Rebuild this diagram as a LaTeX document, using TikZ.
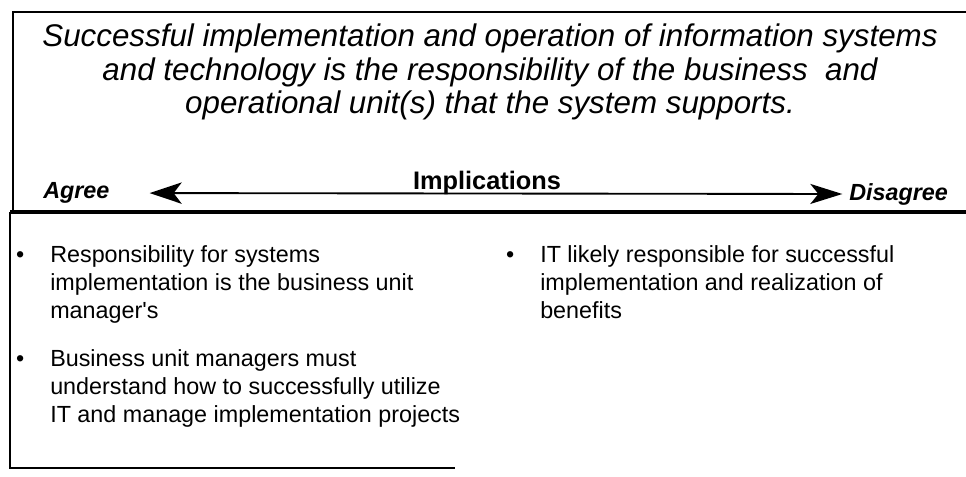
\documentclass[tikz,border=0pt]{standalone}
\usepackage{fontspec}
\newfontfamily\arialfont{Liberation Sans}
\usetikzlibrary{positioning, arrows.meta}
\tikzset{
  claim/.style={align=center, inner sep=0pt, font=\arialfont\itshape\fontsize{23.5}{25}\selectfont},
  heading/.style={inner sep=0pt, font=\arialfont\bfseries\fontsize{19}{22}\selectfont},
  pole/.style={inner sep=0pt, font=\arialfont\bfseries\itshape\fontsize{17.5}{21}\selectfont},
  itemtext/.style={align=left, inner sep=0pt, font=\arialfont\fontsize{17.5}{21}\selectfont},
  frame/.style={line width=1.3pt},
  biarrow/.style={line width=1.4pt, {Stealth[length=24pt, width=16pt, inset=6pt]}-{Stealth[length=24pt, width=15pt, inset=6pt]}}
}
\begin{document}
\begin{tikzpicture}[x=0.75pt, y=-0.75pt]
        \useasboundingbox (0,0) rectangle (966,476);

        % === CAJA SUPERIOR: enunciado ===
        \node (claim) [claim] at (490,72) {Successful implementation and operation of information systems\\and technology is the responsibility of the business\ \ and\\operational unit(s) that the system supports.};
        \node (implic) [heading] at (487,183) {Implications};
        \node (agree) [pole, anchor=west] at (43,193) {Agree};
        \node (disagree) [pole, anchor=west] at (849,194) {Disagree};

        \draw [biarrow, shorten <=30pt, shorten >=5pt] (agree.east) -- (disagree.west);

        \draw [frame] (13,212) -- (13,12) -- (966,12);
        \draw [line width=2.4pt] (10,212) -- (966,212);

        % === CAJA INFERIOR: implicaciones ===
        \draw [frame] (10,212) -- (10,468) -- (455,468);

        \node (lresp) [itemtext, anchor=north west] at (50,243) {\strut Responsibility for systems\\implementation is the business unit\\manager's};
        \node (lmgr) [itemtext, below=17pt of lresp.south west, anchor=north west] {\strut Business unit managers must\\understand how to successfully utilize\\IT and manage implementation projects};
        \node (rresp) [itemtext, anchor=north west] at (540,243) {\strut IT likely responsible for successful\\implementation and realization of\\benefits};

        \node (dot1) [itemtext, left=19pt of lresp.north west, anchor=north east] {\strut\textbullet};
        \node (dot2) [itemtext, left=19pt of lmgr.north west, anchor=north east] {\strut\textbullet};
        \node (dot3) [itemtext, left=19pt of rresp.north west, anchor=north east] {\strut\textbullet};

    \end{tikzpicture}
\end{document}
